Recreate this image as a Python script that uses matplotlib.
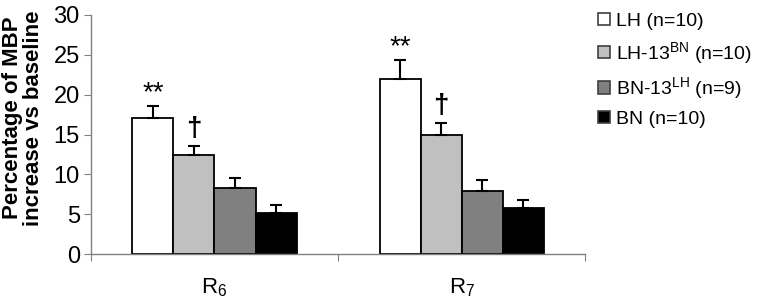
import matplotlib
matplotlib.use('Agg')
import matplotlib.pyplot as plt
import numpy as np

plt.rcParams['font.family'] = ['Liberation Sans', 'DejaVu Sans']
plt.rcParams['mathtext.default'] = 'regular'

# 数据
groups = ['R$_6$', 'R$_7$']
series = ['LH (n=10)', 'LH-13$^{BN}$ (n=10)', 'BN-13$^{LH}$ (n=9)', 'BN (n=10)']
means = [[17.1, 22.0],
         [12.4, 14.95],
         [8.25, 7.9],
         [5.2, 5.75]]
errs = [[1.5, 2.3],
        [1.2, 1.5],
        [1.35, 1.35],
        [0.9, 1.1]]
marks = ['**', '\u2020', '', '']
colors = ['white', '#c0c0c0', '#808080', 'black']

fig = plt.figure(figsize=(7.64, 3.04), dpi=100)
ax = fig.add_axes([0.119, 0.164, 0.647, 0.787])

x = np.arange(len(groups)) + 0.5
w = 0.166
for i in range(len(series)):
    xi = x + (i - 1.5) * w
    ax.bar(xi, means[i], w, color=colors[i], edgecolor='black', linewidth=1.3,
           label=series[i], zorder=2)
    top = np.array(means[i]) + np.array(errs[i])
    ax.errorbar(xi, top, yerr=[np.array(errs[i]), np.zeros(2)], fmt='none',
                ecolor='black', elinewidth=1.5, capsize=4, capthick=1.5, zorder=3)
    if marks[i]:
        off = 1.6 if marks[i] == '**' else 2.1
        for xx, tt in zip(xi, top):
            ax.text(xx, tt + off, marks[i], ha='center', va='center',
                    fontsize=20, fontweight='normal' if marks[i] == '**' else 'bold')

ax.set_xlim(0, 2)
ax.set_ylim(0, 30)
ax.set_yticks(range(0, 31, 5))
ax.set_xticks([0, 1, 2])
ax.set_xticklabels([])
ax.set_xticks(x, minor=True)
ax.set_xticklabels(groups, minor=True, fontsize=16)
ax.tick_params(axis='x', which='minor', length=0, pad=16)
ax.tick_params(axis='x', which='major', length=5, color='#808080')
ax.tick_params(axis='y', labelsize=17, length=5, color='#808080', pad=3)
for s in ['top', 'right']:
    ax.spines[s].set_visible(False)
for s in ['left', 'bottom']:
    ax.spines[s].set_color('#808080')
    ax.spines[s].set_linewidth(1)
ax.set_ylabel('Percentage of MBP\nincrease vs baseline', fontsize=16,
              fontweight='bold', linespacing=1.0)
ax.yaxis.set_label_coords(-0.095, 0.57)

leg = fig.legend(loc='upper left', bbox_to_anchor=(598 / 764, 1 - 13 / 304), frameon=False,
                 fontsize=14, handlelength=0.6, handleheight=0.6, handletextpad=0.35,
                 labelspacing=0.5, borderaxespad=0, borderpad=0)
for h in leg.legend_handles:
    h.set_edgecolor('#404040')
    h.set_linewidth(1.2)

fig.savefig('out.png', dpi=100)
